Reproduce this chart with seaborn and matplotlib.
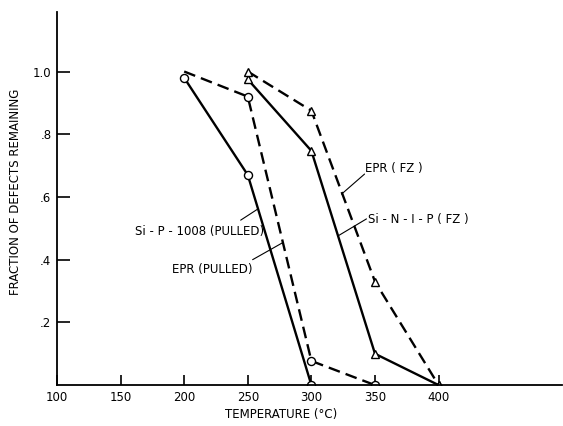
import pandas as pd
import matplotlib
matplotlib.use("Agg")
import matplotlib.pyplot as plt
import seaborn as sns

# data
temp_pulled = [200, 250, 300]
frac_si_p_1008 = [0.98, 0.67, 0.0]

temp_epr_pulled = [200, 250, 300, 350]
frac_epr_pulled = [1.0, 0.92, 0.077, 0.0]

temp_fz = [250, 300, 350, 400]
frac_si_n_i_p = [0.975, 0.747, 0.10, 0.0]
frac_epr_fz = [1.0, 0.875, 0.33, 0.0]

x_ticks = [100, 150, 200, 250, 300, 350, 400]
y_ticks = [0.2, 0.4, 0.6, 0.8, 1.0]
y_tick_labels = [".2", ".4", ".6", ".8", "1.0"]

sns.set_style("ticks")
plt.rcParams['font.family'] = ['DejaVu Sans']
plt.rcParams['text.color'] = 'black'

fig = plt.figure(figsize=(5.63, 4.26), dpi=100)
ax = fig.add_axes([0.1012, 0.096, 0.897, 0.876])

lw = 1.7
dash = (0, (5, 2.6))
mk = dict(markersize=5.8, markerfacecolor='white', markeredgecolor='black',
          markeredgewidth=1.0, color='black', linewidth=lw)

sns.lineplot(x=temp_pulled, y=frac_si_p_1008, ax=ax, marker='o', **mk)
sns.lineplot(x=temp_epr_pulled, y=frac_epr_pulled, ax=ax, marker='o',
             markevery=[1, 2, 3], linestyle=dash, **mk)
sns.lineplot(x=temp_fz, y=frac_si_n_i_p, ax=ax, marker='^', **mk)
sns.lineplot(x=temp_fz, y=frac_epr_fz, ax=ax, marker='^', linestyle=dash, **mk)

# curve labels: text position (left, centre) and leader line (start, tip)
notes = [
    ("Si - P - 1008 (PULLED)", (161.0, 0.491), (244.4, 0.526), (257.3, 0.560)),
    ("EPR (PULLED)", (190.3, 0.37), (253.8, 0.40), (277.8, 0.455)),
    ("EPR ( FZ )", (342.5, 0.69), (341.8, 0.673), (323.7, 0.609)),
    ("Si - N - I - P ( FZ )", (344.4, 0.528), (343.3, 0.530), (320.6, 0.475)),
]
for txt, pos, start, tip in notes:
    ax.text(pos[0], pos[1], txt, fontsize=8.5, ha='left', va='center', color='black')
    ax.plot([start[0], tip[0]], [start[1], tip[1]], color='black', lw=0.8)

ax.set_xlim(100, 497)
ax.set_ylim(0, 1.19)
ax.set_xticks(x_ticks)
ax.set_yticks(y_ticks)
ax.set_yticklabels(y_tick_labels)
ax.tick_params(direction='in', width=1.2, labelsize=8.5, colors='black')
ax.tick_params(axis='x', length=7.5, pad=4)
ax.tick_params(axis='y', length=9.5, pad=4)
for s in ['top', 'right']:
    ax.spines[s].set_visible(False)
for s in ['left', 'bottom']:
    ax.spines[s].set_linewidth(1.3)
    ax.spines[s].set_color('black')

ax.set_xlabel("")
ax.set_ylabel("")
fig.text(0.5, 0.027, "TEMPERATURE (°C)", ha='center', va='center', fontsize=8.5)
fig.text(0.028, 0.55, "FRACTION OF DEFECTS REMAINING", rotation=90,
         ha='center', va='center', fontsize=8.5)

fig.savefig("out.png", dpi=100)
